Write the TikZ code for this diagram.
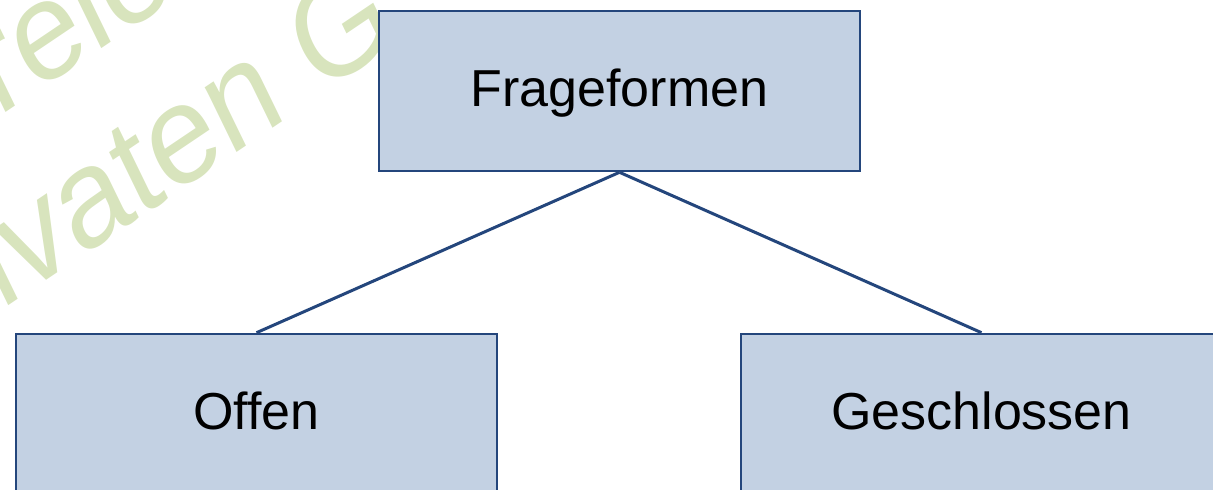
\documentclass[tikz,border=0pt]{standalone}
\usepackage{fontspec}
\setmainfont{Liberation Sans}
\definecolor{boxfill}{RGB}{195,209,227}
\definecolor{boxline}{RGB}{36,70,124}
\definecolor{markgreen}{RGB}{216,228,189}
\begin{document}
\begin{tikzpicture}[x=1pt,y=1pt,
  formbox/.style={draw=boxline,fill=boxfill,line width=2.6pt,minimum width=481pt,minimum height=160pt,
    inner sep=0pt,text height=37pt,text depth=5pt,font=\fontsize{52}{60}\selectfont},
  branch/.style={draw=boxline,line width=3pt},
  wmark/.style={text=markgreen,transform shape,anchor=base west,inner sep=0pt,font=\fontsize{130}{150}\selectfont}]
\useasboundingbox (0,0) rectangle (1213,490);

% watermark behind everything, slanted frame
\begin{scope}[cm={0.829,0.559,-0.46,0.944,(-1.6,372)}]
\node [wmark] (wm1) at (0,0) {reie};
\end{scope}
\begin{scope}[cm={0.829,0.559,-0.46,0.944,(1.4,179)}]
\node [wmark] (wm2) at (0,0) {ivaten G};
\end{scope}

\node [formbox] (frage) at (619.5,399) {Frageformen};
\node [formbox] (offen) at (256.5,76) {Offen};
\node [formbox] (geschl) at (981.5,76) {Geschlossen};

\draw [branch] (frage.south) -- (offen.north);
\draw [branch] (frage.south) -- (geschl.north);
\end{tikzpicture}
\end{document}
